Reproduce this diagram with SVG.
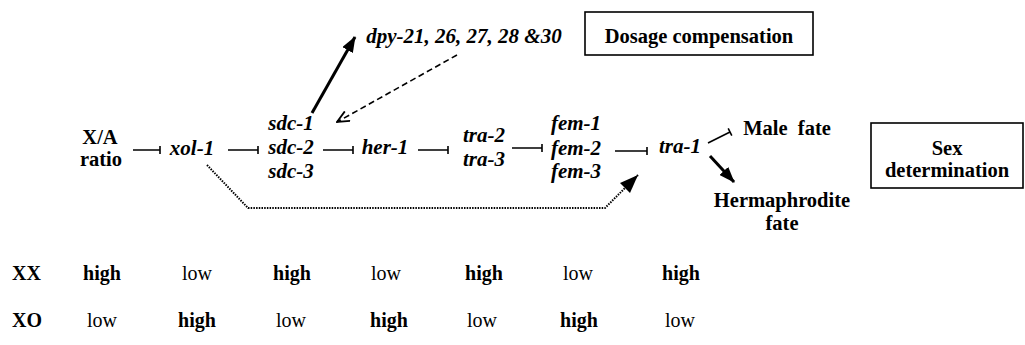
<svg xmlns="http://www.w3.org/2000/svg" width="1025" height="345" viewBox="0 0 1025 345" font-family="Liberation Serif, DejaVu Serif, serif">
  <style>
    text { font-family: 'Liberation Serif', 'DejaVu Serif', 'Times New Roman', Times, serif; fill: #000; }
    .gene { font-size: 21px; font-weight: bold; font-style: italic; text-anchor: middle; }
    .lbl { font-size: 20.5px; font-weight: bold; text-anchor: middle; }
    .tbl { font-size: 20px; text-anchor: middle; }
    .b { font-weight: bold; }
    .row { font-size: 20px; font-weight: bold; }
    .box { fill: #fff; stroke: #000; stroke-width: 1.6; }
    .inh { stroke: #000; stroke-width: 1.6; fill: none; }
    .act { stroke: #000; stroke-width: 3; fill: none; }
    .dash { stroke: #000; stroke-width: 1.6; fill: none; stroke-dasharray: 6 3.5; }
    .dot { stroke: #000; stroke-width: 2; fill: none; stroke-dasharray: 1.5 1.2; }
  </style>
  <defs>
    <marker id="head" viewBox="0 0 16 12" refX="15" refY="6" markerWidth="16" markerHeight="12" markerUnits="userSpaceOnUse" orient="auto">
      <path d="M0,0 L16,6 L0,12 Z" fill="#000"/>
    </marker>
    <marker id="open" viewBox="0 0 14 12" refX="13" refY="6" markerWidth="14" markerHeight="12" markerUnits="userSpaceOnUse" orient="auto">
      <path d="M1,0.5 L13,6 L1,11.5" fill="none" stroke="#000" stroke-width="1.8"/>
    </marker>
  </defs>

  <!-- pathway nodes -->
  <g id="xa-ratio">
    <text class="lbl" x="100" y="144">X/A</text>
    <text class="lbl" x="101" y="166">ratio</text>
  </g>
  <g id="xol1"><text class="gene" x="192" y="155">xol-1</text></g>
  <g id="sdc">
    <text class="gene" x="291" y="130">sdc-1</text>
    <text class="gene" x="291" y="154">sdc-2</text>
    <text class="gene" x="291" y="178">sdc-3</text>
  </g>
  <g id="her1"><text class="gene" x="385" y="154">her-1</text></g>
  <g id="tra23">
    <text class="gene" x="484" y="142">tra-2</text>
    <text class="gene" x="484" y="166">tra-3</text>
  </g>
  <g id="fem">
    <text class="gene" x="576" y="130">fem-1</text>
    <text class="gene" x="576" y="155">fem-2</text>
    <text class="gene" x="576" y="178">fem-3</text>
  </g>
  <g id="tra1"><text class="gene" x="680" y="153">tra-1</text></g>
  <g id="dpy"><text class="gene" x="464" y="43">dpy-21, 26, 27, 28 &amp;30</text></g>
  <g id="dosage-box">
    <rect class="box" x="585" y="12" width="228" height="43"/>
    <text class="lbl" x="699" y="43">Dosage compensation</text>
  </g>
  <g id="male-fate"><text class="lbl" x="787" y="135" xml:space="preserve">Male  fate</text></g>
  <g id="herm-fate">
    <text class="lbl" x="782" y="207">Hermaphrodite</text>
    <text class="lbl" x="782" y="230">fate</text>
  </g>
  <g id="sexdet-box">
    <rect class="box" x="871" y="123" width="152" height="65"/>
    <text class="lbl" x="947" y="155">Sex</text>
    <text class="lbl" x="947" y="177">determination</text>
  </g>

  <!-- connectors -->
  <g id="connectors">
    <path class="inh" d="M133,150 H160 M160,146 V154"/>
    <path class="inh" d="M228,150 H258 M258,146 V154"/>
    <path class="inh" d="M323,150 H353 M353,146 V154"/>
    <path class="inh" d="M418,150 H448 M448,146 V154"/>
    <path class="inh" d="M512,148 H542 M542,144 V152"/>
    <path class="inh" d="M615,151 H647 M647,147 V155"/>
    <path class="inh" d="M708,143 L730,132 M728.2,128.4 L731.8,135.6"/>
    <line class="act" x1="710" y1="156" x2="734" y2="182" stroke-width="2.5" marker-end="url(#head)"/>
    <line class="act" x1="312" y1="113" x2="355" y2="37" marker-end="url(#head)"/>
    <line class="dash" x1="457" y1="55" x2="337" y2="122" marker-end="url(#open)"/>
    <polyline class="dot" points="207,165 248,208 605,208 638,175"/>
    <path d="M638,175 L620,183 L630,193 Z" fill="#000"/>
  </g>

  <!-- expression table -->
  <g id="table">
    <text class="row" x="12" y="280">XX</text>
    <text class="tbl b" x="102" y="280">high</text>
    <text class="tbl" x="197" y="280">low</text>
    <text class="tbl b" x="292" y="280">high</text>
    <text class="tbl" x="386" y="280">low</text>
    <text class="tbl b" x="484" y="280">high</text>
    <text class="tbl" x="578" y="280">low</text>
    <text class="tbl b" x="681" y="280">high</text>
    <text class="row" x="12" y="327">XO</text>
    <text class="tbl" x="102" y="327">low</text>
    <text class="tbl b" x="197" y="327">high</text>
    <text class="tbl" x="291" y="327">low</text>
    <text class="tbl b" x="389" y="327">high</text>
    <text class="tbl" x="482" y="327">low</text>
    <text class="tbl b" x="579" y="327">high</text>
    <text class="tbl" x="680" y="327">low</text>
  </g>
</svg>
